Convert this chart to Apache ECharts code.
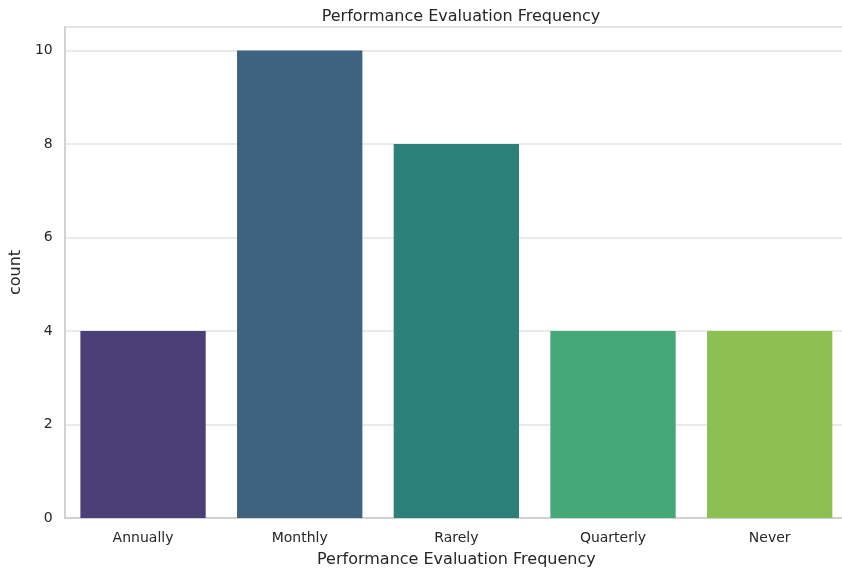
<!DOCTYPE html>
<html>
<head>
<meta charset="utf-8">
<script src="https://cdn.jsdelivr.net/npm/echarts@6/dist/echarts.min.js"></script>
<style>html,body{margin:0;padding:0;background:#fff;overflow:hidden;width:842px;height:573px}#w{width:842px;height:573px;overflow:hidden;position:relative}#c{width:848px;height:573px;position:absolute;left:0;top:0}</style>
</head>
<body>
<div id="w"><div id="c"></div></div>
<script>
const categories = ["Annually", "Monthly", "Rarely", "Quarterly", "Never"];
const counts = [4, 10, 8, 4, 4];
const barColors = ["#4b3f77", "#3e6381", "#2c807a", "#45a877", "#8cc152"];
const yTicks = [0, 2, 4, 6, 8, 10];

const chart = echarts.init(document.getElementById('c'), null, {renderer: 'canvas'});
const font = 'DejaVu Sans';
chart.setOption({
  animation: false,
  backgroundColor: '#ffffff',
  title: {
    text: 'Performance Evaluation Frequency',
    left: 456, top: 4, textAlign: 'center',
    textStyle: {fontFamily: font, fontSize: 16, fontWeight: 'normal', color: '#262626'}
  },
  grid: {left: 63, right: 0, top: 27, bottom: 51, show: true, borderColor: '#d9d9d9', borderWidth: 1.5},
  xAxis: {
    type: 'category',
    data: categories,
    name: 'Performance Evaluation Frequency',
    nameLocation: 'middle', nameGap: 34,
    nameTextStyle: {fontFamily: font, fontSize: 16, color: '#262626'},
    axisLine: {lineStyle: {color: '#cccccc', width: 1.5}},
    axisTick: {show: false},
    axisLabel: {fontFamily: font, fontSize: 14, color: '#262626', margin: 13}
  },
  yAxis: {
    type: 'value',
    min: 0, max: 10.5, interval: 2,
    name: 'count',
    nameLocation: 'middle', nameGap: 36,
    nameTextStyle: {fontFamily: font, fontSize: 16, color: '#262626'},
    axisLine: {show: true, lineStyle: {color: '#cccccc', width: 1.5}},
    axisTick: {show: false},
    axisLabel: {fontFamily: font, fontSize: 14, color: '#262626', margin: 12, showMaxLabel: false,
      formatter: v => yTicks.includes(v) ? String(v) : ''},
    splitLine: {lineStyle: {color: '#e3e3e3', width: 1.5}}
  },
  series: [{
    type: 'bar',
    barWidth: '80%',
    data: counts.map((v, i) => ({value: v, itemStyle: {color: barColors[i]}}))
  }]
});
</script>
</body>
</html>
